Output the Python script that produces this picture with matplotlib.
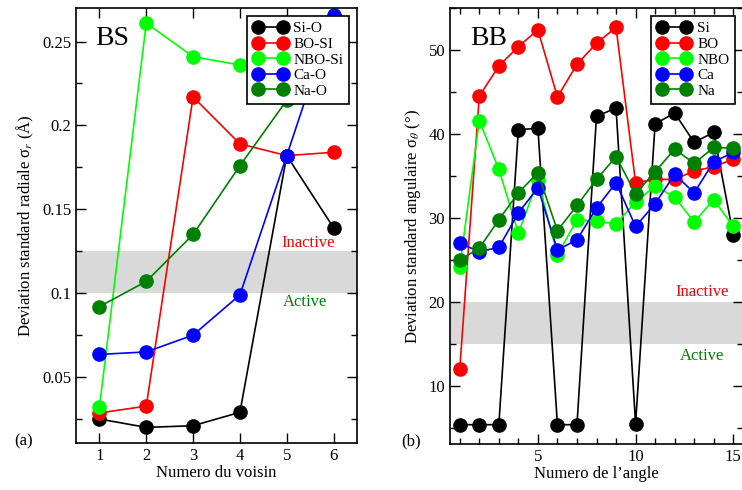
import matplotlib
matplotlib.use('Agg')
import matplotlib.pyplot as plt
from matplotlib.ticker import MultipleLocator

plt.rcParams['font.family'] = ['Liberation Serif', 'DejaVu Serif']
plt.rcParams['mathtext.fontset'] = 'stix'

# panel (a): radial standard deviation per neighbour
voisin = [1, 2, 3, 4, 5, 6]
si_o = [0.025, 0.020, 0.021, 0.029, 0.182, 0.139]
bo_si = [0.0286, 0.0327, 0.217, 0.189, 0.182, 0.184]
nbo_si = [0.032, 0.261, 0.241, 0.236, 0.235, 0.238]
ca_o = [0.0635, 0.065, 0.075, 0.099, 0.182, 0.266]
na_o = [0.092, 0.107, 0.135, 0.176, 0.215, 0.25]
labels_a = ['Si-O', 'BO-SI', 'NBO-Si', 'Ca-O', 'Na-O']

# panel (b): angular standard deviation per angle
angle = list(range(1, 16))
si = [5.4, 5.4, 5.4, 40.5, 40.7, 5.4, 5.4, 42.1, 43.1, 5.5, 41.2, 42.5, 39.0, 40.2, 28.0]
bo = [12.0, 44.5, 48.1, 50.4, 52.4, 44.4, 48.3, 50.8, 52.7, 34.2, 34.6, 34.6, 35.6, 36.1, 37.0]
nbo = [24.2, 41.6, 35.8, 28.2, 34.5, 25.6, 29.8, 29.6, 29.3, 31.9, 33.8, 32.5, 29.5, 32.2, 29.0]
ca = [27.0, 26.0, 26.5, 30.6, 33.6, 26.2, 27.4, 31.2, 34.2, 29.0, 31.7, 35.2, 33.0, 36.7, 37.8]
na = [25.0, 26.4, 29.8, 33.0, 35.4, 28.5, 31.5, 34.6, 37.3, 32.9, 35.5, 38.2, 36.5, 38.4, 38.3]
labels_b = ['Si', 'BO', 'NBO', 'Ca', 'Na']

colors = ['black', 'red', '#00ff00', 'blue', 'green']


def style_axes(ax):
    ax.tick_params(which='both', direction='in', top=True, right=True, labelsize=12)
    ax.tick_params(which='major', length=7, width=1)
    ax.tick_params(which='minor', length=4, width=1)
    for s in ax.spines.values():
        s.set_linewidth(1.2)


def draw(ax, x, series, labels):
    for y, c, lab in zip(series, colors, labels):
        ax.plot(x, y, '-o', color=c, mec=c, ms=9.5, lw=1.2, label=lab)
    leg = ax.legend(loc='upper right', fontsize=11, frameon=True, fancybox=False,
                    framealpha=1, edgecolor='black', numpoints=2,
                    handlelength=2.2, borderpad=0.4, labelspacing=0.12,
                    handletextpad=0.4, borderaxespad=0.5)
    leg.get_frame().set_linewidth(1.2)
    leg.set_zorder(10)


fig = plt.figure(figsize=(7.42, 4.90), dpi=100)
ax1 = fig.add_axes([76 / 742, 1 - 443 / 490, 281 / 742, 435 / 490])
ax2 = fig.add_axes([450 / 742, 1 - 444 / 490, 293 / 742, 436 / 490])

ax1.axhspan(0.1, 0.125, color='#d9d9d9', lw=0, zorder=0)
draw(ax1, voisin, [si_o, bo_si, nbo_si, ca_o, na_o], labels_a)
ax1.set_xlim(0.5, 6.5)
ax1.set_ylim(0.0107, 0.27)
ax1.xaxis.set_major_locator(MultipleLocator(1))
ax1.yaxis.set_minor_locator(MultipleLocator(0.025))
ax1.set_yticks([0.05, 0.1, 0.15, 0.2, 0.25])
ax1.set_yticklabels(['0.05', '0.1', '0.15', '0.2', '0.25'])
ax1.set_xlabel('Numero du voisin', fontsize=12, labelpad=1)
ax1.set_ylabel('Deviation standard radiale σ$_r$ (Å)', fontsize=12, labelpad=4)
ax1.text(0.07, 0.93, 'BS', transform=ax1.transAxes, fontsize=20, va='center')
ax1.text(5.45, 0.130, 'Inactive', color='red', fontsize=12, ha='center', va='center')
ax1.text(5.4, 0.0946, 'Active', color='green', fontsize=12, ha='center', va='center')
style_axes(ax1)
fig.text(24 / 742, 1 - 441 / 490, '(a)', fontsize=12, ha='center', va='center')

ax2.axhspan(15, 20, color='#d9d9d9', lw=0, zorder=0)
draw(ax2, angle, [si, bo, nbo, ca, na], labels_b)
ax2.set_xlim(0.5, 15.5)
ax2.set_ylim(3.1, 55)
ax2.xaxis.set_major_locator(MultipleLocator(5))
ax2.xaxis.set_minor_locator(MultipleLocator(1))
ax2.yaxis.set_major_locator(MultipleLocator(10))
ax2.yaxis.set_minor_locator(MultipleLocator(5))
ax2.set_xlabel("Numero de l\u2019angle", fontsize=12, labelpad=1)
ax2.set_ylabel('Deviation standard angulaire σ$_\\theta$ (°)', fontsize=12, labelpad=4)
ax2.text(0.07, 0.93, 'BB', transform=ax2.transAxes, fontsize=20, va='center')
ax2.text(13.4, 21.2, 'Inactive', color='red', fontsize=12, ha='center', va='center')
ax2.text(13.4, 13.6, 'Active', color='green', fontsize=12, ha='center', va='center')
style_axes(ax2)
fig.text(411 / 742, 1 - 441 / 490, '(b)', fontsize=12, ha='center', va='center')

fig.savefig('out.png', dpi=100)
